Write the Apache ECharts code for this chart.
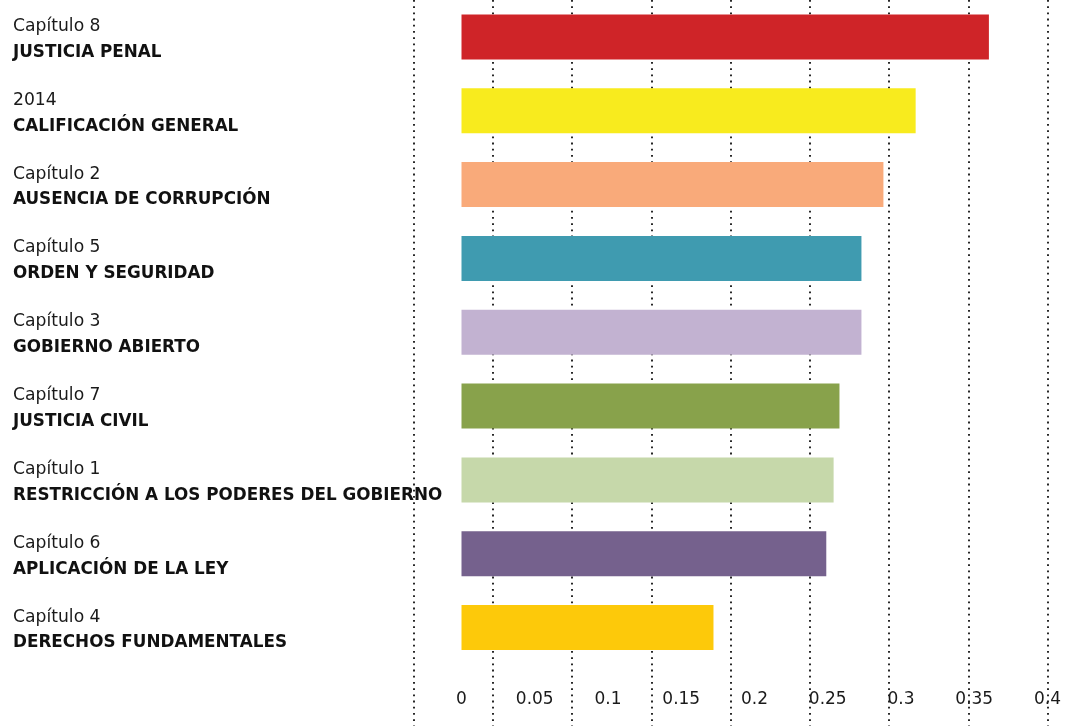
<!DOCTYPE html>
<html><head><meta charset="utf-8">
<script src="https://cdn.jsdelivr.net/npm/echarts@6/dist/echarts.min.js"></script>
<style>html,body{margin:0;padding:0;background:#fff}#c{width:1065px;height:726px}</style>
</head><body><div id="c"></div>
<script>
var chapters = ['Capítulo 8','2014','Capítulo 2','Capítulo 5','Capítulo 3','Capítulo 7','Capítulo 1','Capítulo 6','Capítulo 4'];
var titles = ['JUSTICIA PENAL','CALIFICACIÓN GENERAL','AUSENCIA DE CORRUPCIÓN','ORDEN Y SEGURIDAD','GOBIERNO ABIERTO','JUSTICIA CIVIL','RESTRICCIÓN A LOS PODERES DEL GOBIERNO','APLICACIÓN DE LA LEY','DERECHOS FUNDAMENTALES'];
var values = [0.360, 0.310, 0.288, 0.273, 0.273, 0.258, 0.254, 0.249, 0.172];
var colors = ['#cf2428','#f8eb1e','#f9aa7a','#3f9bb0','#c2b2d1','#88a24b','#c6d8aa','#75618d','#fdc90a'];
var tickLabels = ['0','0.05','0.1','0.15','0.2','0.25','0.3','0.35','0.4'];

var FONT = 'DejaVu Sans';
var chart = echarts.init(document.getElementById('c'));
chart.setOption({
  animation: false,
  textStyle: {fontFamily: FONT},
  grid: [
    {left: 413.5, width: 634, top: 0, bottom: 0, containLabel: false},
    {left: 461.5, right: 17.5, top: -1.5, height: 666, containLabel: false}
  ],
  xAxis: [
    {gridIndex: 0, type: 'value', min: 0, max: 8, interval: 1,
     axisLine: {show: false}, axisTick: {show: false}, axisLabel: {show: false},
     splitLine: {show: true, lineStyle: {color: '#111', width: 1.8, type: [1.8, 4.4]}}},
    {gridIndex: 1, type: 'value', min: 0, max: 0.4, interval: 0.05,
     axisLine: {show: false}, axisTick: {show: false}, splitLine: {show: false},
     axisLabel: {margin: 27, fontSize: 17, color: '#1a1a1a', fontFamily: FONT,
       formatter: function (v) { var i = Math.round(v / 0.05); return tickLabels[i]; }}}
  ],
  yAxis: [
    {gridIndex: 0, type: 'value', show: false},
    {gridIndex: 1, type: 'category', inverse: true,
     data: chapters.map(function (c, i) { return c + '\n' + titles[i]; }),
     axisLine: {show: false}, axisTick: {show: false},
     axisLabel: {
       align: 'left', margin: 448.5, padding: [5, 0, 0, 0],
       formatter: function (v) { var p = v.split('\n'); return '{a|' + p[0] + '}\n{b|' + p[1] + '}'; },
       rich: {
         a: {fontSize: 17.2, lineHeight: 26, color: '#1a1a1a', fontFamily: FONT, fontWeight: 'normal'},
         b: {fontSize: 16.8, lineHeight: 26, color: '#111', fontFamily: FONT, fontWeight: 'bold'}
       }
     }}
  ],
  series: [{
    type: 'bar', xAxisIndex: 1, yAxisIndex: 1, barWidth: 45,
    data: values.map(function (v, i) { return {value: v, itemStyle: {color: colors[i]}}; })
  }]
});
</script></body></html>
